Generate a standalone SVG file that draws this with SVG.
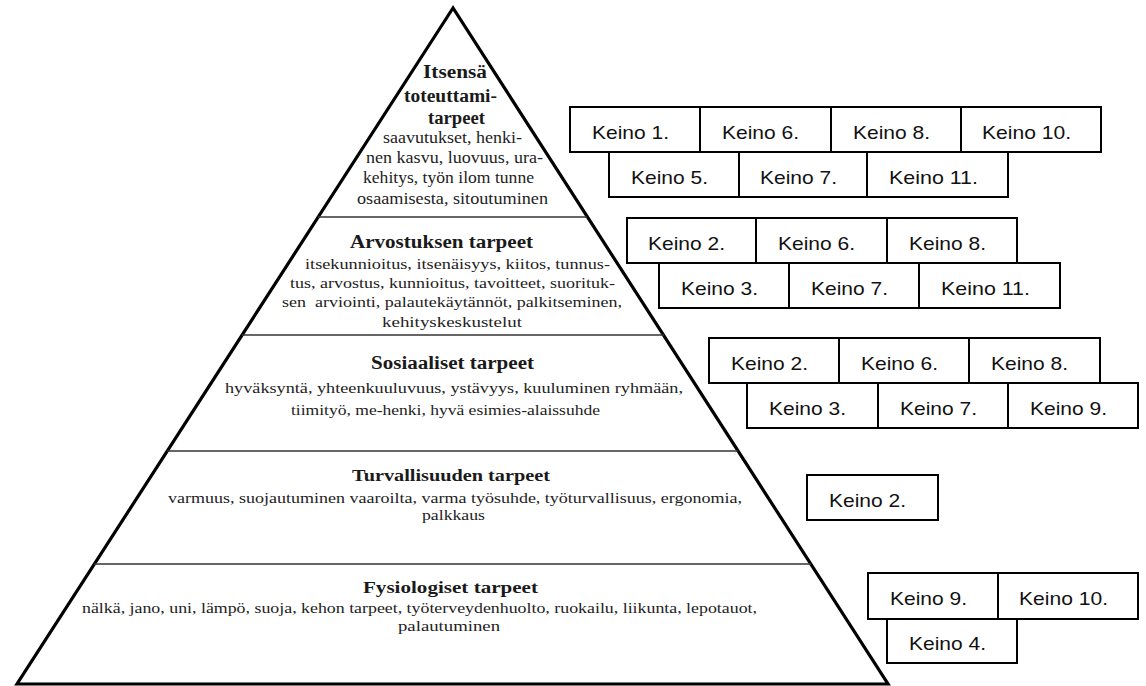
<svg xmlns="http://www.w3.org/2000/svg" width="1146" height="686" viewBox="0 0 1146 686">
<style>
.pyr{fill:none;stroke:#000;stroke-width:3.2;stroke-linejoin:miter}
.sep{stroke:#333;stroke-width:1.6}
.t{font-family:"Liberation Serif","Times New Roman",serif;font-weight:bold;fill:#1a1a1a}
.b{font-family:"Liberation Serif","Times New Roman",serif;fill:#222}
.box{fill:#fff;stroke:#000;stroke-width:2}
.k{font-family:"Liberation Sans",Arial,sans-serif;font-size:19px;fill:#111}
</style>
<rect width="1146" height="686" fill="#fff"/>
<g id="pyramid">
<polygon class="pyr" points="453,8 17,684 888,684"/>
<line class="sep" x1="318" y1="217" x2="587" y2="217"/>
<line class="sep" x1="242" y1="335" x2="664" y2="335"/>
<line class="sep" x1="167" y1="451" x2="738" y2="451"/>
<line class="sep" x1="94" y1="564" x2="811" y2="564"/>
</g>
<g id="level-itsensa">
<text class="t" font-size="18" x="423" y="78" textLength="64" lengthAdjust="spacingAndGlyphs">Itsensä</text>
<text class="t" font-size="18" x="404" y="102" textLength="93" lengthAdjust="spacingAndGlyphs">toteuttami-</text>
<text class="t" font-size="18" x="428" y="124" textLength="57" lengthAdjust="spacingAndGlyphs">tarpeet</text>
<text class="b" font-size="17" x="383" y="143" textLength="139" lengthAdjust="spacingAndGlyphs">saavutukset, henki-</text>
<text class="b" font-size="17" x="366" y="163" textLength="177" lengthAdjust="spacingAndGlyphs">nen kasvu, luovuus, ura-</text>
<text class="b" font-size="17" x="363" y="183" textLength="171" lengthAdjust="spacingAndGlyphs">kehitys, työn ilom tunne</text>
<text class="b" font-size="17" x="357" y="204" textLength="191" lengthAdjust="spacingAndGlyphs">osaamisesta, sitoutuminen</text>
</g>
<g id="level-arvostus">
<text class="t" font-size="18" x="350" y="248" textLength="183" lengthAdjust="spacingAndGlyphs">Arvostuksen tarpeet</text>
<text class="b" font-size="15.5" x="305" y="269" textLength="305" lengthAdjust="spacingAndGlyphs">itsekunnioitus, itsenäisyys, kiitos, tunnus-</text>
<text class="b" font-size="15.5" x="290" y="288" textLength="325" lengthAdjust="spacingAndGlyphs">tus, arvostus, kunnioitus, tavoitteet, suorituk-</text>
<text class="b" font-size="15.5" x="282" y="307" textLength="340" lengthAdjust="spacingAndGlyphs" xml:space="preserve">sen  arviointi, palautekäytännöt, palkitseminen,</text>
<text class="b" font-size="15.5" x="382" y="327" textLength="140" lengthAdjust="spacingAndGlyphs">kehityskeskustelut</text>
</g>
<g id="level-sosiaaliset">
<text class="t" font-size="18" x="371" y="369" textLength="163" lengthAdjust="spacingAndGlyphs">Sosiaaliset tarpeet</text>
<text class="b" font-size="15.5" x="225" y="393" textLength="458" lengthAdjust="spacingAndGlyphs">hyväksyntä, yhteenkuuluvuus, ystävyys, kuuluminen ryhmään,</text>
<text class="b" font-size="15.5" x="291" y="415" textLength="309" lengthAdjust="spacingAndGlyphs">tiimityö, me-henki, hyvä esimies-alaissuhde</text>
</g>
<g id="level-turvallisuus">
<text class="t" font-size="17.5" x="352" y="481" textLength="198" lengthAdjust="spacingAndGlyphs">Turvallisuuden tarpeet</text>
<text class="b" font-size="14.5" x="168" y="503" textLength="574" lengthAdjust="spacingAndGlyphs">varmuus, suojautuminen vaaroilta, varma työsuhde, työturvallisuus, ergonomia,</text>
<text class="b" font-size="14.5" x="422" y="520" textLength="63" lengthAdjust="spacingAndGlyphs">palkkaus</text>
</g>
<g id="level-fysiologiset">
<text class="t" font-size="17.5" x="363" y="593" textLength="175" lengthAdjust="spacingAndGlyphs">Fysiologiset tarpeet</text>
<text class="b" font-size="14" x="82" y="613" textLength="675" lengthAdjust="spacingAndGlyphs">nälkä, jano, uni, lämpö, suoja, kehon tarpeet, työterveydenhuolto, ruokailu, liikunta, lepotauot,</text>
<text class="b" font-size="14" x="398" y="631" textLength="102" lengthAdjust="spacingAndGlyphs">palautuminen</text>
</g>
<g id="keinot-itsensa">
<g id="k1-1"><rect class="box" x="570" y="107" width="130" height="45"/><text class="k" x="592" y="138.5" textLength="77" lengthAdjust="spacingAndGlyphs">Keino 1.</text></g>
<g id="k1-6"><rect class="box" x="700" y="107" width="131" height="45"/><text class="k" x="722" y="138.5" textLength="77" lengthAdjust="spacingAndGlyphs">Keino 6.</text></g>
<g id="k1-8"><rect class="box" x="831" y="107" width="130" height="45"/><text class="k" x="853" y="138.5" textLength="77" lengthAdjust="spacingAndGlyphs">Keino 8.</text></g>
<g id="k1-10"><rect class="box" x="961" y="107" width="140" height="45"/><text class="k" x="982" y="138.5" textLength="89" lengthAdjust="spacingAndGlyphs">Keino 10.</text></g>
<g id="k1-5"><rect class="box" x="609" y="152" width="130" height="45"/><text class="k" x="631" y="183.5" textLength="77" lengthAdjust="spacingAndGlyphs">Keino 5.</text></g>
<g id="k1-7"><rect class="box" x="739" y="152" width="128" height="45"/><text class="k" x="760" y="183.5" textLength="77" lengthAdjust="spacingAndGlyphs">Keino 7.</text></g>
<g id="k1-11"><rect class="box" x="867" y="152" width="141" height="45"/><text class="k" x="889" y="183.5" textLength="89" lengthAdjust="spacingAndGlyphs">Keino 11.</text></g>
</g>
<g id="keinot-arvostus">
<g id="k2-2"><rect class="box" x="627" y="218" width="129" height="45"/><text class="k" x="648" y="249.5" textLength="77" lengthAdjust="spacingAndGlyphs">Keino 2.</text></g>
<g id="k2-6"><rect class="box" x="756" y="218" width="131" height="45"/><text class="k" x="778" y="249.5" textLength="77" lengthAdjust="spacingAndGlyphs">Keino 6.</text></g>
<g id="k2-8"><rect class="box" x="887" y="218" width="130" height="45"/><text class="k" x="909" y="249.5" textLength="77" lengthAdjust="spacingAndGlyphs">Keino 8.</text></g>
<g id="k2-3"><rect class="box" x="659" y="263" width="130" height="45"/><text class="k" x="681" y="294.5" textLength="77" lengthAdjust="spacingAndGlyphs">Keino 3.</text></g>
<g id="k2-7"><rect class="box" x="789" y="263" width="130" height="45"/><text class="k" x="811" y="294.5" textLength="77" lengthAdjust="spacingAndGlyphs">Keino 7.</text></g>
<g id="k2-11"><rect class="box" x="919" y="263" width="141" height="45"/><text class="k" x="941" y="294.5" textLength="89" lengthAdjust="spacingAndGlyphs">Keino 11.</text></g>
</g>
<g id="keinot-sosiaaliset">
<g id="k3-2"><rect class="box" x="709" y="338" width="130" height="45"/><text class="k" x="731" y="369.5" textLength="77" lengthAdjust="spacingAndGlyphs">Keino 2.</text></g>
<g id="k3-6"><rect class="box" x="839" y="338" width="130" height="45"/><text class="k" x="861" y="369.5" textLength="77" lengthAdjust="spacingAndGlyphs">Keino 6.</text></g>
<g id="k3-8"><rect class="box" x="969" y="338" width="131" height="45"/><text class="k" x="991" y="369.5" textLength="77" lengthAdjust="spacingAndGlyphs">Keino 8.</text></g>
<g id="k3-3"><rect class="box" x="747" y="383" width="131" height="45"/><text class="k" x="769" y="414.5" textLength="77" lengthAdjust="spacingAndGlyphs">Keino 3.</text></g>
<g id="k3-7"><rect class="box" x="878" y="383" width="130" height="45"/><text class="k" x="900" y="414.5" textLength="77" lengthAdjust="spacingAndGlyphs">Keino 7.</text></g>
<g id="k3-9"><rect class="box" x="1008" y="383" width="130" height="45"/><text class="k" x="1030" y="414.5" textLength="77" lengthAdjust="spacingAndGlyphs">Keino 9.</text></g>
</g>
<g id="keinot-turvallisuus">
<g id="k4-2"><rect class="box" x="807" y="475" width="131" height="45"/><text class="k" x="829" y="506.5" textLength="77" lengthAdjust="spacingAndGlyphs">Keino 2.</text></g>
</g>
<g id="keinot-fysiologiset">
<g id="k5-9"><rect class="box" x="868" y="573" width="130" height="46"/><text class="k" x="890" y="605" textLength="77" lengthAdjust="spacingAndGlyphs">Keino 9.</text></g>
<g id="k5-10"><rect class="box" x="998" y="573" width="140" height="46"/><text class="k" x="1019" y="605" textLength="89" lengthAdjust="spacingAndGlyphs">Keino 10.</text></g>
<g id="k5-4"><rect class="box" x="887" y="619" width="130" height="44"/><text class="k" x="909" y="650" textLength="77" lengthAdjust="spacingAndGlyphs">Keino 4.</text></g>
</g>
<g id="connectors"/>
</svg>
